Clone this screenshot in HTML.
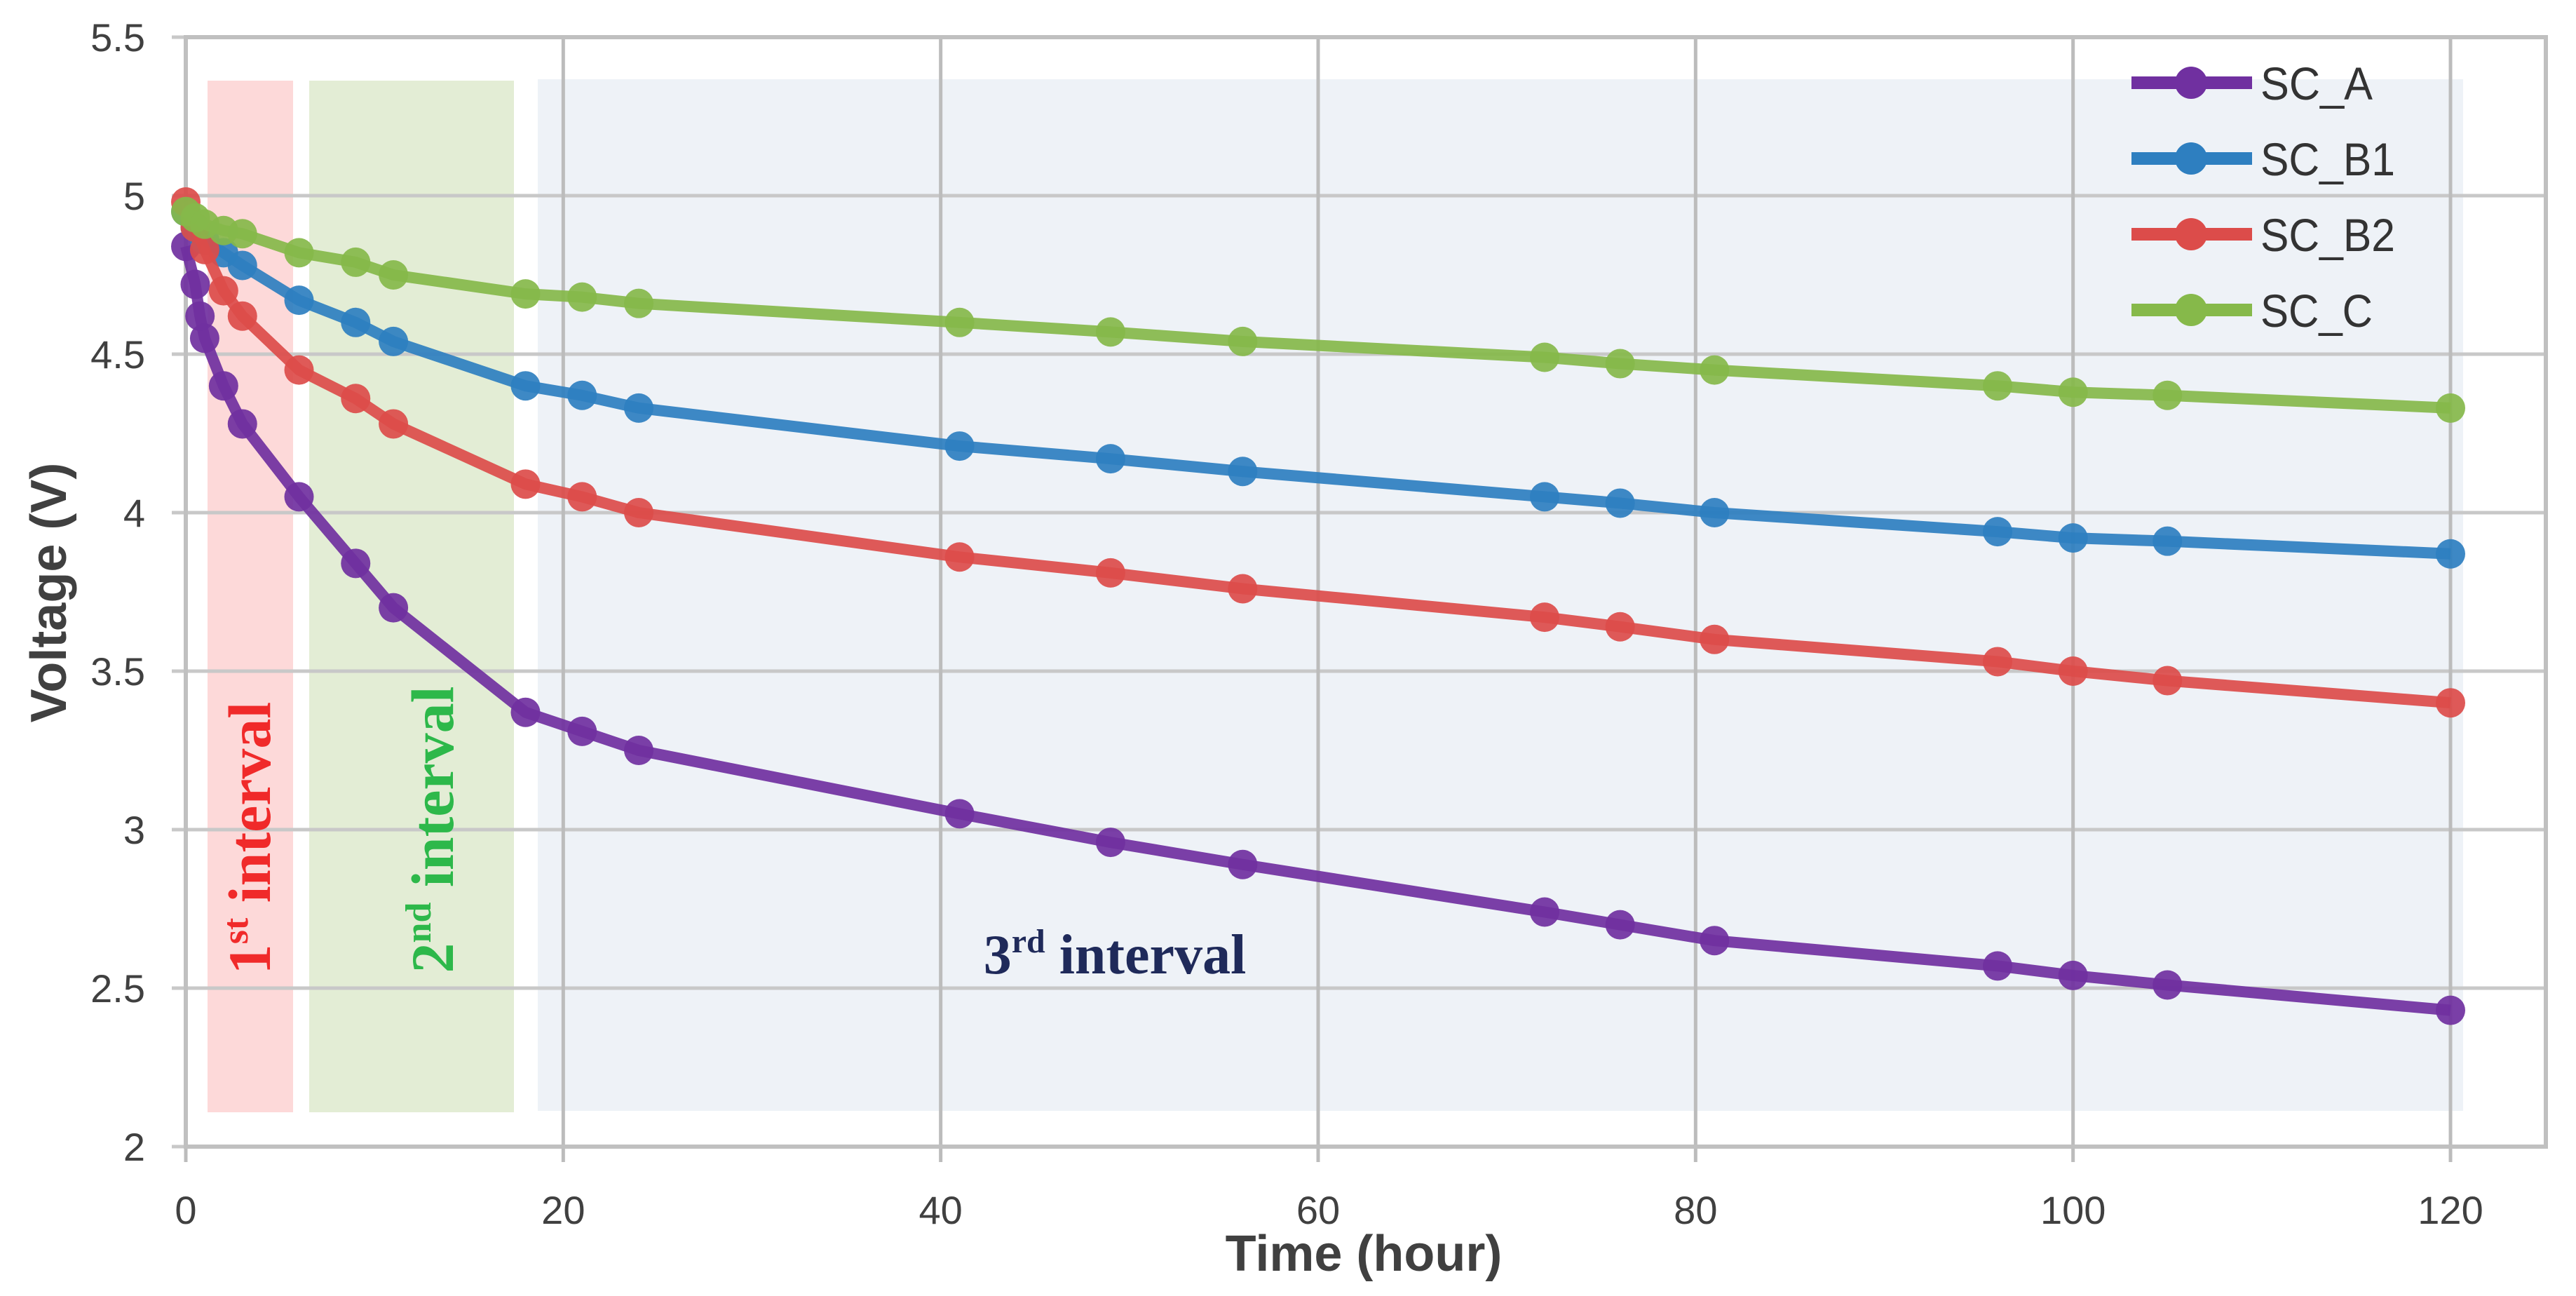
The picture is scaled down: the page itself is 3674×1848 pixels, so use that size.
<!DOCTYPE html>
<html><head><meta charset="utf-8"><style>
html,body{margin:0;padding:0;background:#fff;}
svg{display:block;}
</style></head><body>
<svg id="chart" width="3674" height="1848" viewBox="0 0 3674 1848" xmlns="http://www.w3.org/2000/svg" font-family="'Liberation Sans', sans-serif">
<g id="bands">
 <rect x="296" y="115" width="122" height="1471" fill="#fdd9d9"/>
 <rect x="441" y="115" width="292" height="1471" fill="#e3edd5"/>
 <rect x="767" y="113" width="2746" height="1471" fill="#eef2f7"/>
</g>
<g id="grid"></g>
<g id="axes"></g>
<g id="series"></g>
<text transform="translate(385,1195) rotate(-90)" text-anchor="middle" font-family="'Liberation Serif', serif" font-weight="bold" font-size="86" fill="#f02a2a">1<tspan font-size="52" dy="-32">st</tspan><tspan dy="32"> interval</tspan></text>
<text transform="translate(646,1183) rotate(-90)" text-anchor="middle" font-family="'Liberation Serif', serif" font-weight="bold" font-size="86" fill="#2db84a">2<tspan font-size="52" dy="-32">nd</tspan><tspan dy="32"> interval</tspan></text>
<text x="1590" y="1388" text-anchor="middle" font-family="'Liberation Serif', serif" font-weight="bold" font-size="80" fill="#1f2a5a">3<tspan font-size="48" dy="-30">rd</tspan><tspan dy="30"> interval</tspan></text>
<text x="1945" y="1812" text-anchor="middle" font-weight="bold" font-size="72" fill="#404040">Time (hour)</text>
<text transform="translate(94,845) rotate(-90)" text-anchor="middle" font-weight="bold" font-size="72" fill="#404040">Voltage (V)</text>
<g id="legend"></g>
</svg>
<script>
const xTicks = [0,20,40,60,80,100,120];
const yTicks = [2,2.5,3,3.5,4,4.5,5,5.5];
const hours = [0,0.5,1,2,3,6,9,11,18,21,24,41,49,56,72,76,81,96,100,105,120];
const hoursA = [0,0.5,0.75,1,2,3,6,9,11,18,21,24,41,49,56,72,76,81,96,100,105,120];
const scA = [4.84,4.72,4.62,4.55,4.40,4.28,4.05,3.84,3.70,3.37,3.31,3.25,3.05,2.96,2.89,2.74,2.70,2.65,2.57,2.54,2.51,2.43];
const scB1 = [4.95,4.90,4.86,4.82,4.78,4.67,4.60,4.54,4.40,4.37,4.33,4.21,4.17,4.13,4.05,4.03,4.00,3.94,3.92,3.91,3.87];
const scB2 = [4.98,4.90,4.83,4.70,4.62,4.45,4.36,4.28,4.09,4.05,4.00,3.86,3.81,3.76,3.67,3.64,3.60,3.53,3.50,3.47,3.40];
const scC = [4.95,4.93,4.91,4.89,4.88,4.82,4.79,4.75,4.69,4.68,4.66,4.60,4.57,4.54,4.49,4.47,4.45,4.40,4.38,4.37,4.33];
const seriesNames = ["SC_A","SC_B1","SC_B2","SC_C"];
const seriesColors = ["#7030a0","#2e7fc0","#dc4c4a","#86b94a"];

const NS="http://www.w3.org/2000/svg";
const X0=265, X1=3495, Y0=1635, Y1=53;
const sx=v=>X0+(v-0)/(120-0)*(X1-X0);
const sy=v=>Y0-(v-2)/(5.5-2)*(Y0-Y1);
function mk(tag,attrs,parent){const e=document.createElementNS(NS,tag);for(const k in attrs)e.setAttribute(k,attrs[k]);parent.appendChild(e);return e;}
const grid=document.getElementById('grid'), axes=document.getElementById('axes'), ser=document.getElementById('series'), leg=document.getElementById('legend');
yTicks.forEach(t=>{
 const l=mk('line',{x1:245,x2:3631,y1:sy(t),y2:sy(t),stroke:'#c8c8c8','stroke-width':5},grid);
 
 
 const tx=mk('text',{x:207,y:sy(t)+20,'text-anchor':'end','font-size':56,fill:'#404040'},axes);
 tx.textContent=String(t);
 
 
});
xTicks.forEach(t=>{
 const l=mk('line',{x1:sx(t),x2:sx(t),y1:Y1,y2:1657,stroke:'#bcbcbc','stroke-width':5},grid);
 
 
 const tx=mk('text',{x:sx(t),y:1745,'text-anchor':'middle','font-size':56,fill:'#404040'},axes);
 tx.textContent=String(t);
 
 
});
const fr=mk('rect',{x:X0,y:Y1,width:3631-X0,height:Y0-Y1,fill:'none',stroke:'#c0c0c0','stroke-width':6},axes);


const legendWidths=[160,192,192,160];
const data=[[hoursA,scA],[hours,scB1],[hours,scB2],[hours,scC]];
data.forEach((d,i)=>{
 const g=mk('g',{},ser);
 
 
 const pts=d[0].map((h,j)=>sx(h)+','+sy(d[1][j])).join(' ');
 const pl=mk('polyline',{points:pts,fill:'none',stroke:seriesColors[i],'stroke-width':16,'stroke-linejoin':'round','stroke-opacity':0.92},g);
 
 
 d[0].forEach((h,j)=>{
  const c=mk('circle',{cx:sx(h),cy:sy(d[1][j]),r:21,fill:seriesColors[i],'fill-opacity':0.92},g);
  
  
 });
 const ly=118+i*108;
 const ll=mk('line',{x1:3040,x2:3212,y1:ly,y2:ly,stroke:seriesColors[i],'stroke-width':18},leg);
 
 
 const lc=mk('circle',{cx:3125,cy:ly,r:23,fill:seriesColors[i]},leg);
 
 
 const lt=mk('text',{x:3224,y:ly+24,'font-size':66,fill:'#333',textLength:legendWidths[i],lengthAdjust:'spacingAndGlyphs'},leg);
 lt.textContent=seriesNames[i];
 
 
});
</script>
</body></html>
